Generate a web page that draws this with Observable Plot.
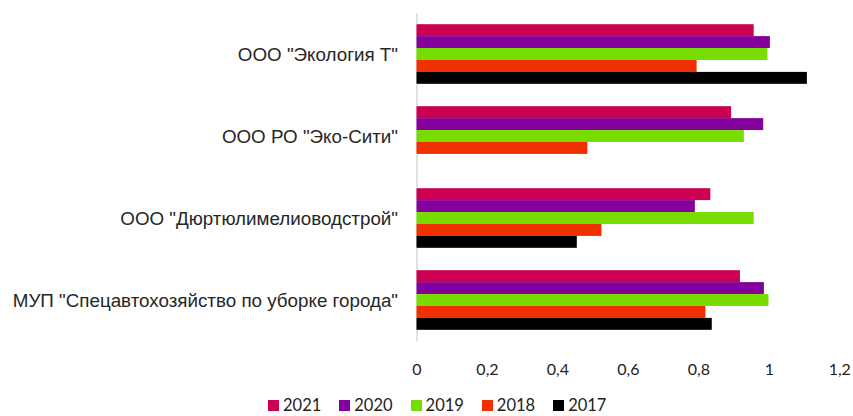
<!DOCTYPE html>
<html>
<head>
<meta charset="utf-8">
<script src="https://cdn.jsdelivr.net/npm/d3@7"></script>
<script src="https://cdn.jsdelivr.net/npm/@observablehq/plot@0.6"></script>
<style>
  html, body { margin: 0; padding: 0; background: #fff; }
  #wrap { position: relative; width: 853px; height: 416px; }
  #chart svg { display: block; }
  g[aria-label^="fy-axis"] text { font-family: "Liberation Sans", Arial, sans-serif; font-size: 18.8px; fill: #262626; }
  g[aria-label^="x-axis"] text { font-family: Lato, "Open Sans", sans-serif; font-size: 16px; fill: #222; }
  #legend { position: absolute; left: 268px; top: 395px; display: flex; font-family: Lato, "Open Sans", sans-serif; font-size: 16.5px; color: #222; line-height: 20px; }
  #legend .item { display: flex; align-items: center; margin-right: 18px; }
  #legend .sw { width: 11px; height: 11px; margin-right: 4px; }
</style>
</head>
<body>
<div id="wrap">
  <div id="chart"></div>
  <div id="legend"></div>
</div>
<script>
const categories = [
  'ООО "Экология Т"',
  'ООО РО "Эко-Сити"',
  'ООО "Дюртюлимелиоводстрой"',
  'МУП "Спецавтохозяйство по уборке города"'
];
const years = ["2021", "2020", "2019", "2018", "2017"];
const colors = ["#cc0052", "#84009c", "#77dd00", "#f03000", "#000000"];
// values per year, in category order (null = no bar)
const v2021 = [0.957, 0.893, 0.834, 0.918];
const v2020 = [1.003, 0.984, 0.790, 0.986];
const v2019 = [0.996, 0.929, 0.957, 0.999];
const v2018 = [0.795, 0.485, 0.525, 0.820];
const v2017 = [1.108, null, 0.455, 0.838];
const xTicks = [0, 0.2, 0.4, 0.6, 0.8, 1, 1.2];

const series = [v2021, v2020, v2019, v2018, v2017];
const rows = [];
categories.forEach((c, i) => {
  years.forEach((y, j) => {
    const v = series[j][i];
    if (v != null) rows.push({cat: c, year: y, value: v});
  });
});

const chart = Plot.plot({
  width: 853,
  height: 380,
  marginLeft: 416.5,
  marginRight: 13.7,
  marginTop: 12,
  marginBottom: 38,
  facet: {data: rows, y: "cat"},
  fy: {domain: categories, padding: 0, label: null, tickSize: 0, tickPadding: 19, axis: "left"},
  y: {domain: years, paddingInner: 0, paddingOuter: 0.9375, axis: null, round: false},
  x: {domain: [0, 1.2], ticks: xTicks, tickFormat: d => String(d).replace(".", ","), tickSize: 0, tickPadding: 22, label: null, line: false},
  color: {domain: years, range: colors},
  marks: [
    Plot.ruleX([0], {stroke: "#d9d9d9", strokeWidth: 1.5}),
    Plot.barX(rows, {x: "value", y: "year", fill: "year", insetTop: 0, insetBottom: 0})
  ]
});
document.getElementById("chart").appendChild(chart);

const legend = document.getElementById("legend");
years.forEach((y, j) => {
  const it = document.createElement("div");
  it.className = "item";
  const sw = document.createElement("div");
  sw.className = "sw";
  sw.style.background = colors[j];
  const t = document.createElement("span");
  t.textContent = y;
  it.appendChild(sw);
  it.appendChild(t);
  legend.appendChild(it);
});
</script>
</body>
</html>
